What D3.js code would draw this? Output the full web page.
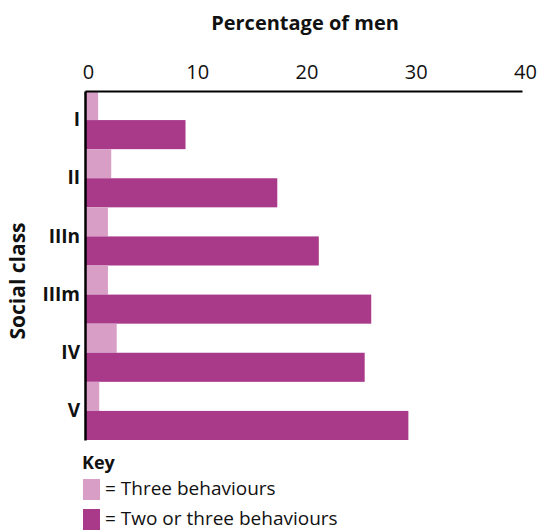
<!DOCTYPE html>
<html><head><meta charset="utf-8">
<script src="https://cdn.jsdelivr.net/npm/d3@7"></script>
<style>body{margin:0;background:#fff}svg{display:block}text{font-family:"Open Sans",sans-serif;fill:#111}</style>
</head><body><svg id="c" width="543" height="532"></svg>
<script>
const categories = ["I","II","IIIn","IIIm","IV","V"];
const seriesNames = ["Three behaviours","Two or three behaviours"];
const threeBehaviours = [1.2, 2.4, 2.1, 2.1, 2.9, 1.3];
const twoOrThree = [9.2, 17.6, 21.4, 26.2, 25.6, 29.6];
const xTicks = [0,10,20,30,40];
const colors = ["#D89EC6","#A93A8A"];

const svg = d3.select("#c");
const x = d3.scaleLinear().domain([0,40]).range([85,522]);
const y = d3.scaleBand().domain(categories).range([91,440]).padding(0);
const ys = d3.scaleBand().domain([0,1]).range([0,y.bandwidth()]).padding(0);

const data = categories.map((c,i)=>({c, v:[threeBehaviours[i], twoOrThree[i]]}));
const g = svg.append("g");
data.forEach(d=>{
  d.v.forEach((v,j)=>{
    g.append("rect").attr("x",x(0)).attr("y",y(d.c)+ys(j))
     .attr("width",x(v)-x(0)).attr("height",ys.bandwidth()).attr("fill",colors[j]);
  });
});

// top axis
const xa = svg.append("g").attr("transform","translate(0,91)")
  .call(d3.axisTop(x).tickValues(xTicks).tickSize(0).tickPadding(12).tickFormat(d3.format("d")));
xa.select(".domain").attr("stroke","#000").attr("stroke-width",2);
xa.selectAll("text").attr("font-size",20).attr("dx",3).attr("font-family","'Open Sans',sans-serif").attr("fill","#111");

// left axis
const ya = svg.append("g").attr("transform","translate(85,0)")
  .call(d3.axisLeft(y).tickSize(0).tickPadding(5));
ya.select(".domain").attr("stroke","#000").attr("stroke-width",2.5);
ya.selectAll("text").attr("font-size",19).attr("font-weight","bold").attr("font-family","'Open Sans',sans-serif").attr("fill","#111");

svg.append("text").attr("x",305).attr("y",30).attr("text-anchor","middle")
  .attr("font-size",20).attr("font-weight","bold").text("Percentage of men");
svg.append("text").attr("transform","translate(25,281) rotate(-90)").attr("text-anchor","middle")
  .attr("font-size",21).attr("font-weight","bold").text("Social class");

// legend
svg.append("text").attr("x",82).attr("y",469).attr("font-size",18).attr("font-weight","bold").text("Key");
const lg = svg.append("g");
seriesNames.forEach((n,i)=>{
  const yy = 479 + i*30;
  lg.append("rect").attr("x",83).attr("y",yy).attr("width",17).attr("height",21).attr("fill",colors[i]);
  lg.append("text").attr("x",105).attr("y",yy+16).attr("font-size",19).text("= " + n);
});
</script></body></html>
